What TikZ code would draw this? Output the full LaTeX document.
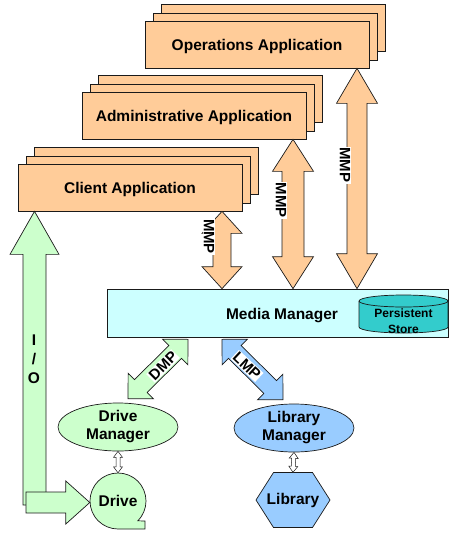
\documentclass[tikz,border=0pt]{standalone}
\usepackage{fontspec}
\setmainfont{Liberation Sans}
\usetikzlibrary{calc,shapes.geometric}

\definecolor{peach}{HTML}{FFCC99}
\definecolor{mmcyan}{HTML}{CCFFFF}
\definecolor{storeteal}{HTML}{33CCCC}
\definecolor{mintgreen}{HTML}{CCFFCC}
\definecolor{skyblue}{HTML}{99CCFF}
\definecolor{inkline}{HTML}{1A1A1A}

\tikzset{
  outline/.style={draw=inkline, line width=0.7pt, line join=miter},
  labelfont/.style={font=\bfseries\fontsize{15.5}{18}\selectfont},
  appbox/.style={outline, fill=peach, minimum width=224pt, minimum height=47pt,
    inner sep=0pt, text depth=0pt, labelfont},
  ellbox/.style={outline, ellipse, minimum width=120pt, minimum height=48pt,
    inner sep=0pt, align=center, labelfont},
  plaintext/.style={inner sep=0pt, align=center, labelfont},
  proto/.style={fill=white, inner sep=1pt, font=\bfseries\fontsize{15}{15}\selectfont},
  % double-headed block arrow: shaft half width, head half width, head length
  blockarrow/.style n args={3}{to path={
      let \p1=(\tikztostart), \p2=(\tikztotarget),
          \n1={veclen(\x2-\x1,\y2-\y1)}, \n2={atan2(\y2-\y1,\x2-\x1)},
          \n3={\n1-#3}, \n4={\n2+90}, \n5={\n2-90}
      in (\p1)
      -- ($(\p1)+(\n2:#3)+(\n4:#2)$) -- ($(\p1)+(\n2:#3)+(\n4:#1)$)
      -- ($(\p1)+(\n2:\n3)+(\n4:#1)$) -- ($(\p1)+(\n2:\n3)+(\n4:#2)$)
      -- (\p2)
      -- ($(\p1)+(\n2:\n3)+(\n5:#2)$) -- ($(\p1)+(\n2:\n3)+(\n5:#1)$)
      -- ($(\p1)+(\n2:#3)+(\n5:#1)$) -- ($(\p1)+(\n2:#3)+(\n5:#2)$)
      -- cycle}},
  % single-headed block arrow: shaft half width, head half width, head length
  singlearrow/.style n args={3}{to path={
      let \p1=(\tikztostart), \p2=(\tikztotarget),
          \n1={veclen(\x2-\x1,\y2-\y1)}, \n2={atan2(\y2-\y1,\x2-\x1)},
          \n3={\n1-#3}, \n4={\n2+90}, \n5={\n2-90}
      in ($(\p1)+(\n4:#1)$)
      -- ($(\p1)+(\n2:\n3)+(\n4:#1)$) -- ($(\p1)+(\n2:\n3)+(\n4:#2)$)
      -- (\p2)
      -- ($(\p1)+(\n2:\n3)+(\n5:#2)$) -- ($(\p1)+(\n2:\n3)+(\n5:#1)$)
      -- ($(\p1)+(\n5:#1)$)
      -- cycle}},
}

\begin{document}
\begin{tikzpicture}[x=1pt, y=1pt]
\useasboundingbox (0,0) rectangle (449,-533);

% stacked application windows
\node[appbox] (opsback) at (273.5,-28) {};
\node[appbox] (opsmid)  at (265,-36.5) {};
\node[appbox] (ops)     at (257,-44.5) {Operations Application};

\node[appbox] (admback) at (210.5,-99) {};
\node[appbox] (admmid)  at (202,-107.5) {};
\node[appbox] (adm)     at (194,-115.5) {Administrative Application};

\node[appbox] (cliback) at (146.5,-171) {};
\node[appbox] (climid)  at (138,-179.5) {};
\node[appbox] (cli)     at (130,-187.5) {Client Application};

% media manager with its persistent store
\node[outline, fill=mmcyan, minimum width=341pt, minimum height=48pt, inner sep=0pt]
  (mm) at (277.5,-313) {};
\node[plaintext, text depth=0pt] (mmtext) at (282,-314) {Media Manager};

\path[outline, fill=storeteal]
  (359,-301) -- (359,-327) arc[start angle=180, end angle=360, x radius=44.5, y radius=6]
  -- (448,-301) arc[start angle=0, end angle=180, x radius=44.5, y radius=6] -- cycle;
\draw[outline] (359,-301) arc[start angle=180, end angle=360, x radius=44.5, y radius=6];
\node[inner sep=0pt, align=center, font=\bfseries\fontsize{12}{16}\selectfont]
  (store) at (403.5,-321) {Persistent\\Store};

% columns of the protocol arrows
\coordinate (colA) at (222,0);
\coordinate (colB) at (293,0);
\coordinate (colC) at (357,0);

\draw[outline, fill=peach, blockarrow={9}{20}{22}]   (cli.south -| colA) to (mm.north -| colA);
\draw[outline, fill=peach, blockarrow={11}{20.5}{32}] (adm.south -| colB) to (mm.north -| colB);
\draw[outline, fill=peach, blockarrow={10}{20.5}{35}] (ops.south -| colC) to (mm.north -| colC);

\node[proto, rotate=-90] (mmp1) at (209,-236.5) {MMP};
\node[proto, rotate=-90] (mmp2) at (281,-200) {MMP};
\node[proto, rotate=-90] (mmp3) at (345,-165) {MMP};

% drive side
\node[ellbox, fill=mintgreen] (dm) at (118,-427) {Drive\\Manager};
\coordinate (drivec) at (118,-501);
\path[outline, fill=mintgreen]
  ($(drivec)+(-45:28)$) arc[start angle=-45, end angle=270, radius=28]
  -- ($(drivec)+(27,-28)$) -- ($(drivec)+(27,-20)$) -- cycle;
\node[plaintext, circle, minimum size=56pt] (drive) at (drivec) {Drive};

% library side
\node[ellbox, fill=skyblue] (lm) at (294,-428) {Library\\Manager};
\coordinate (libc) at (293,-500);
\path[outline, fill=skyblue]
  ($(libc)+(-37,0)$) -- ($(libc)+(-19.5,27.5)$) -- ($(libc)+(19.5,27.5)$)
  -- ($(libc)+(37,0)$) -- ($(libc)+(19.5,-27.5)$) -- ($(libc)+(-19.5,-27.5)$) -- cycle;
\node[plaintext, minimum width=74pt, minimum height=55pt] (lib) at (libc) {Library};

% DMP and LMP links
\coordinate (dmpTop) at (188,0);
\coordinate (lmpTop) at (222,0);
\draw[outline, fill=mintgreen, blockarrow={9}{18}{18}]
  ($(mm.south -| dmpTop)+(0,-2)$) to ($(dm.north)+(10,4)$);
\draw[outline, fill=skyblue, blockarrow={9}{18}{18}]
  ($(mm.south -| lmpTop)+(0,-2)$) to ($(lm.north)+(-11,4)$);
\node[proto, rotate=45]  (dmp) at (163,-366) {DMP};
\node[proto, rotate=-43] (lmp) at (247,-366) {LMP};

% manager to device links
\draw[outline, line width=0.5pt, fill=white, blockarrow={2}{4.5}{6}] (dm.south) to (drive.north);
\draw[outline, line width=0.5pt, fill=white, blockarrow={2}{4.5}{6}] (lm.south) to (lib.north);

% I/O path from drive to client
\coordinate (ioBase) at (34.5,-505);
\coordinate (ioTurn) at (26,-502.5);
\draw[outline, fill=mintgreen, singlearrow={11.5}{24.5}{43}] (ioBase) to (cli.south -| ioBase);
\draw[outline, fill=mintgreen, singlearrow={10.5}{21.5}{24}] (ioTurn) to (ioTurn -| drive.west);
\node[plaintext, font=\bfseries\fontsize{15.5}{19}\selectfont] (io) at (34,-359) {I\\/\\O};

\end{tikzpicture}
\end{document}
